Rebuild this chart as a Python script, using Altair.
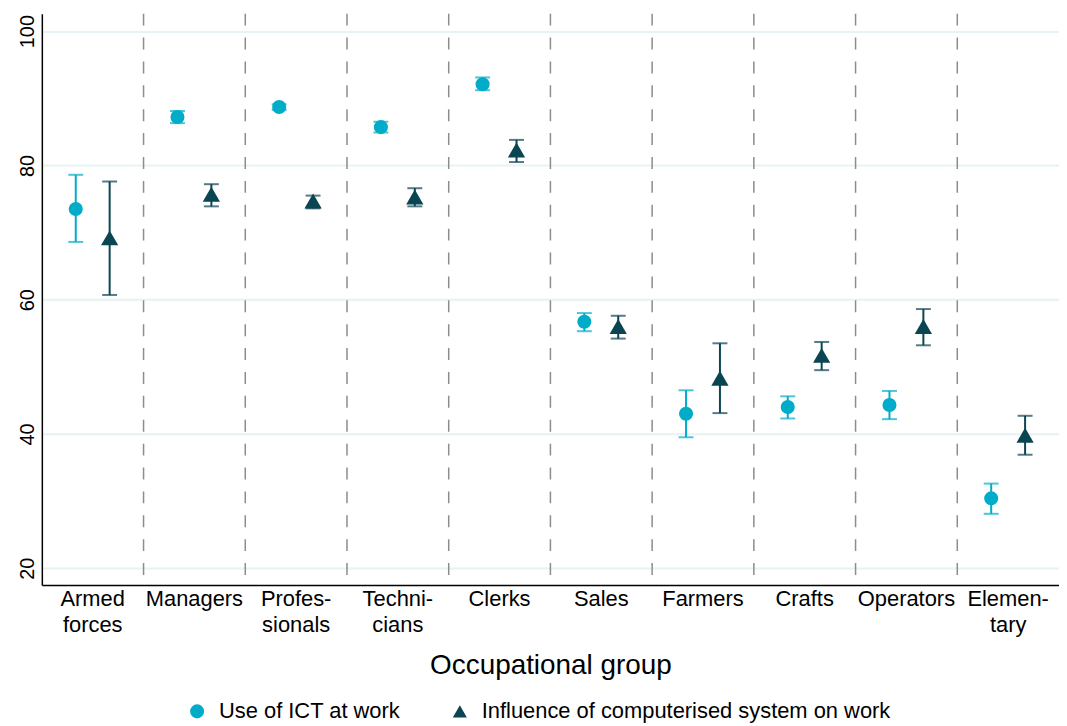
import altair as alt
import pandas as pd

groups = ["Armed\nforces", "Managers", "Profes-\nsionals", "Techni-\ncians", "Clerks",
          "Sales", "Farmers", "Crafts", "Operators", "Elemen-\ntary"]
series = ["Use of ICT at work", "Influence of computerised system on work"]

ict_mean = [73.5, 87.2, 88.7, 85.7, 92.1, 56.7, 43.0, 44.0, 44.3, 30.4]
ict_lo   = [68.6, 86.3, 88.3, 84.9, 91.2, 55.3, 39.5, 42.3, 42.2, 28.1]
ict_hi   = [78.6, 88.1, 89.1, 86.5, 93.1, 58.0, 46.5, 45.6, 46.4, 32.6]

inf_mean = [69.2, 75.7, 74.7, 75.3, 82.3, 56.0, 48.3, 51.7, 56.0, 39.8]
inf_lo   = [60.7, 73.9, 73.6, 73.9, 80.5, 54.2, 43.1, 49.5, 53.2, 36.9]
inf_hi   = [77.6, 77.2, 75.5, 76.6, 83.8, 57.6, 53.5, 53.7, 58.6, 42.7]

rows = []
for i, g in enumerate(groups):
    rows.append({"group": g, "series": series[0], "mean": ict_mean[i], "lo": ict_lo[i], "hi": ict_hi[i]})
    rows.append({"group": g, "series": series[1], "mean": inf_mean[i], "lo": inf_lo[i], "hi": inf_hi[i]})
df = pd.DataFrame(rows)
sep_df = pd.DataFrame({"group": groups[1:]})

FONT = "Liberation Sans"
colors = ["#00acc8", "#0a4552"]

x_axis = alt.Axis(labelExpr="split(datum.label, '\\n')", labelAngle=0, bandPosition=0.5,
                  labelFontSize=22, labelFont=FONT, labelColor="black",
                  labelPadding=4, labelLineHeight=26,
                  titleFontSize=28, titleFont=FONT, titleFontWeight="normal",
                  titleColor="black", titlePadding=16,
                  ticks=False, domainColor="black", domainWidth=1.5, grid=False)
x_scale = alt.Scale(paddingInner=0, paddingOuter=0)
x_enc = alt.X("group:N", sort=groups, title="Occupational group", scale=x_scale, axis=x_axis)
xoff = alt.XOffset("series:N", sort=series,
                   scale=alt.Scale(paddingInner=0, paddingOuter=0.5))
y_scale = alt.Scale(domain=[17.5, 102.6], nice=False, zero=False)
y_axis = alt.Axis(values=[20, 40, 60, 80, 100], labelAngle=-90, labelAlign="center",
                  labelBaseline="bottom", labelFontSize=20, labelFont=FONT,
                  labelColor="black", labelPadding=4, ticks=False,
                  domainColor="black", domainWidth=1.5,
                  grid=True, gridColor="#e8f1f3", gridWidth=2)

legend = alt.Legend(title=None, orient="none", legendX=145, legendY=690,
                    direction="horizontal", labelFontSize=22, labelFont=FONT,
                    labelColor="black", symbolSize=200, symbolOpacity=1, labelLimit=700,
                    symbolStrokeWidth=0, columnPadding=48, labelOffset=11)
color_enc = alt.Color("series:N", sort=series,
                      scale=alt.Scale(domain=series, range=colors), legend=legend)
shape_enc = alt.Shape("series:N", sort=series,
                      scale=alt.Scale(domain=series, range=["circle", "triangle-up"]),
                      legend=legend)

base = alt.Chart(df)

seps = alt.Chart(sep_df).mark_rule(color="#8c8c8c", strokeWidth=1.5, strokeDash=[12, 12]).encode(
    x=alt.X("group:N", sort=groups, bandPosition=0, title="Occupational group",
            scale=x_scale, axis=x_axis),
)

err = base.mark_rule(strokeWidth=2).encode(
    x=x_enc, xOffset=xoff,
    y=alt.Y("lo:Q", scale=y_scale, title=None, axis=y_axis),
    y2="hi:Q",
    color=color_enc,
)
cap_lo = base.mark_tick(thickness=2, size=15).encode(
    x=x_enc, xOffset=xoff,
    y=alt.Y("lo:Q", scale=y_scale, title=None, axis=y_axis),
    color=color_enc,
)
cap_hi = base.mark_tick(thickness=2, size=15).encode(
    x=x_enc, xOffset=xoff,
    y=alt.Y("hi:Q", scale=y_scale, title=None, axis=y_axis),
    color=color_enc,
)

pts_c = base.transform_filter(alt.datum.series == series[0]).mark_point(
    filled=True, opacity=1, size=200).encode(
    x=x_enc, xOffset=xoff,
    y=alt.Y("mean:Q", scale=y_scale, title=None, axis=y_axis),
    color=color_enc, shape=shape_enc,
)
pts_t = base.transform_filter(alt.datum.series == series[1]).mark_point(
    filled=True, opacity=1, size=300).encode(
    x=x_enc, xOffset=xoff,
    y=alt.Y("mean:Q", scale=y_scale, title=None, axis=y_axis),
    color=color_enc, shape=shape_enc,
)

chart = alt.layer(seps, err, cap_lo, cap_hi, pts_c, pts_t).properties(
    width=1022, height=574,
    autosize=alt.AutoSizeParams(type="none"),
    padding={"left": 34, "top": 4, "right": 0, "bottom": 140},
).configure_view(stroke=None)

chart.save("out.html", embed_options={"renderer": "svg", "actions": False})
